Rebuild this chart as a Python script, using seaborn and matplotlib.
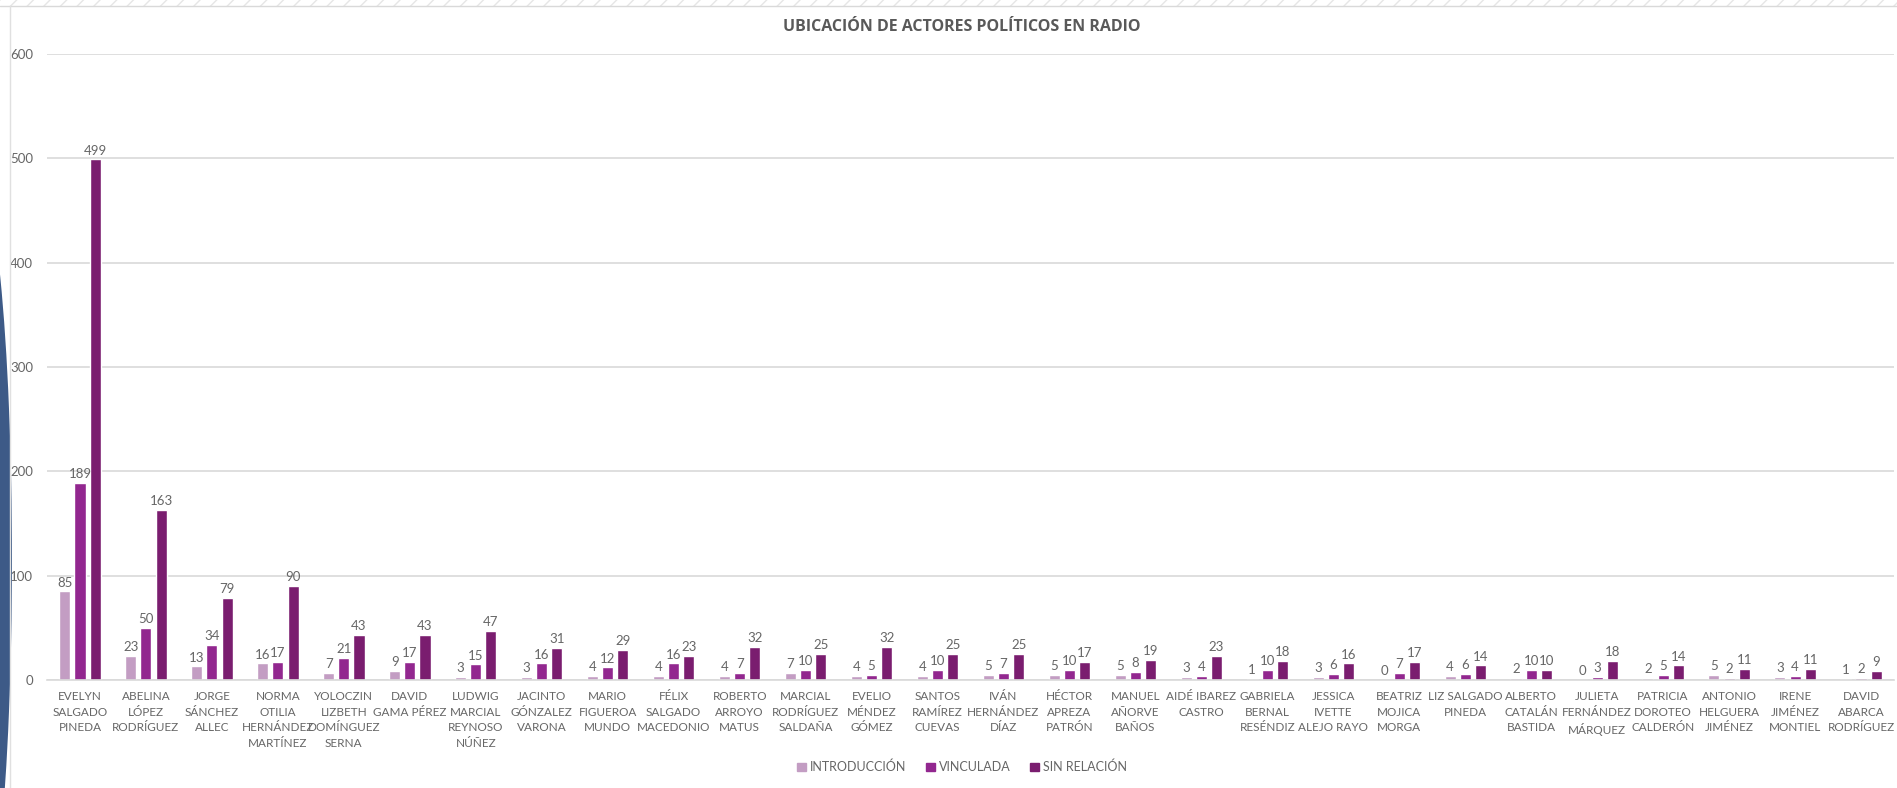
import seaborn as sns
import matplotlib.pyplot as plt
import matplotlib.patches as mpatches
import pandas as pd

actores = ["EVELYN\nSALGADO\nPINEDA", "ABELINA\nLÓPEZ\nRODRÍGUEZ", "JORGE\nSÁNCHEZ\nALLEC",
           "NORMA\nOTILIA\nHERNÁNDEZ\nMARTÍNEZ", "YOLOCZIN\nLIZBETH\nDOMÍNGUEZ\nSERNA", "DAVID\nGAMA PÉREZ",
           "LUDWIG\nMARCIAL\nREYNOSO\nNÚÑEZ", "JACINTO\nGÓNZALEZ\nVARONA", "MARIO\nFIGUEROA\nMUNDO",
           "FÉLIX\nSALGADO\nMACEDONIO", "ROBERTO\nARROYO\nMATUS", "MARCIAL\nRODRÍGUEZ\nSALDAÑA",
           "EVELIO\nMÉNDEZ\nGÓMEZ", "SANTOS\nRAMÍREZ\nCUEVAS", "IVÁN\nHERNÁNDEZ\nDÍAZ",
           "HÉCTOR\nAPREZA\nPATRÓN", "MANUEL\nAÑORVE\nBAÑOS", "AIDÉ IBAREZ\nCASTRO",
           "GABRIELA\nBERNAL\nRESÉNDIZ", "JESSICA\nIVETTE\nALEJO RAYO", "BEATRIZ\nMOJICA\nMORGA",
           "LIZ SALGADO\nPINEDA", "ALBERTO\nCATALÁN\nBASTIDA", "JULIETA\nFERNÁNDEZ\nMÁRQUEZ",
           "PATRICIA\nDOROTEO\nCALDERÓN", "ANTONIO\nHELGUERA\nJIMÉNEZ", "IRENE\nJIMÉNEZ\nMONTIEL",
           "DAVID\nABARCA\nRODRÍGUEZ"]
introduccion = [85, 23, 13, 16, 7, 9, 3, 3, 4, 4, 4, 7, 4, 4, 5, 5, 5, 3, 1, 3, 0, 4, 2, 0, 2, 5, 3, 1]
vinculada = [189, 50, 34, 17, 21, 17, 15, 16, 12, 16, 7, 10, 5, 10, 7, 10, 8, 4, 10, 6, 7, 6, 10, 3, 5, 2, 4, 2]
sin_relacion = [499, 163, 79, 90, 43, 43, 47, 31, 29, 23, 32, 25, 32, 25, 25, 17, 19, 23, 18, 16, 17, 14, 10, 18, 14, 11, 11, 9]
series = ["INTRODUCCIÓN", "VINCULADA", "SIN RELACIÓN"]
colores = ["#C39DC3", "#92278F", "#7A1D6F"]

df = pd.DataFrame({
    "actor": actores * 3,
    "serie": [series[0]] * len(actores) + [series[1]] * len(actores) + [series[2]] * len(actores),
    "valor": introduccion + vinculada + sin_relacion,
})

sns.set_style("white")
plt.rcParams["font.family"] = ["Lato", "DejaVu Sans"]
gris = "#666666"

fig = plt.figure(figsize=(18.97, 7.88), dpi=100)
ax = fig.add_axes([47 / 1897, 108 / 788, 1847 / 1897, 626 / 788])

sns.barplot(data=df, x="actor", y="valor", hue="serie", order=actores, hue_order=series,
            palette=colores, width=0.69, gap=0.27, saturation=1, legend=False, ax=ax)

for cont in ax.containers:
    ax.bar_label(cont, padding=2, fontsize=9.5, color=gris)

ax.set_ylim(0, 600)
ax.set_yticks(range(0, 601, 100))
ax.set_xlim(-0.5, len(actores) - 0.5)
ax.grid(axis="y", color="#D9D9D9", linewidth=1.2)
ax.set_axisbelow(True)
for s in ["top", "left", "right"]:
    ax.spines[s].set_visible(False)
ax.spines["bottom"].set_color("#D9D9D9")
ax.spines["bottom"].set_linewidth(1.2)
ax.tick_params(axis="y", length=0, colors=gris, labelsize=9.5, pad=10)
ax.tick_params(axis="x", length=0, colors=gris, labelsize=8.5, pad=8)
for lbl in ax.get_xticklabels():
    lbl.set_linespacing(1.5)
ax.set_xlabel("")
ax.set_ylabel("")

fig.text(962 / 1897, 1 - 27 / 788, "UBICACIÓN DE ACTORES POLÍTICOS EN RADIO", ha="center", va="center",
         fontsize=11.5, fontweight="bold", color="#595959", family=["Open Sans", "DejaVu Sans"])

handles = [mpatches.Patch(color=c, label=s) for s, c in zip(series, colores)]
fig.legend(handles=handles, loc="center", bbox_to_anchor=(962 / 1897, 1 - 767 / 788), ncol=3,
           frameon=False, fontsize=9, labelcolor=gris, handlelength=0.7, handleheight=0.7,
           handletextpad=0.3, columnspacing=1.6)

# decoracion del marco
fig.add_artist(mpatches.Rectangle((0, 1 - 6 / 788), 1, 6 / 788, transform=fig.transFigure,
                                  facecolor="white", edgecolor="#E6E6E6", hatch="//", linewidth=0))
fig.add_artist(plt.Line2D([0, 1], [1 - 6 / 788, 1 - 6 / 788], transform=fig.transFigure, color="#D9D9D9", lw=1))
fig.add_artist(plt.Line2D([10 / 1897, 10 / 1897], [0, 1 - 6 / 788], transform=fig.transFigure, color="#E0E0E0", lw=1))
fig.add_artist(mpatches.Ellipse((-28 / 1897, 228 / 788), 80 / 1897, 800 / 788, transform=fig.transFigure,
                                facecolor="#3D5A87", edgecolor="none"))

fig.savefig("out.png", dpi=100)
